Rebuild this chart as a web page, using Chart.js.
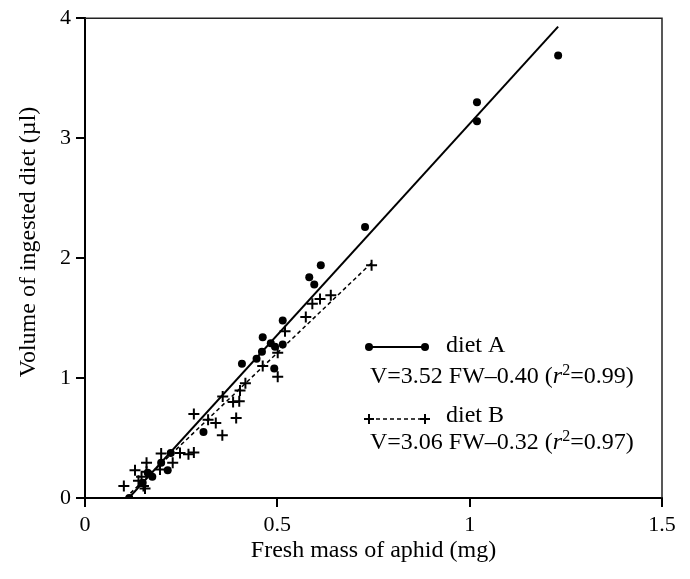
<!DOCTYPE html>
<html>
<head>
<meta charset="utf-8">
<script src="https://cdn.jsdelivr.net/npm/chart.js@4.4.1/dist/chart.umd.min.js"></script>
<style>
  html, body { margin: 0; padding: 0; background: #fff; }
  #wrap { width: 690px; height: 579px; }
</style>
</head>
<body>
<div id="wrap"><canvas id="chart" width="690" height="579"></canvas></div>
<script>
// diet A (dots)
const dietAX = [0.115, 0.15, 0.163, 0.175, 0.198, 0.215, 0.223, 0.308, 0.408, 0.446, 0.46, 0.462, 0.483, 0.492, 0.494, 0.514, 0.514, 0.583, 0.596, 0.613, 0.728, 1.019, 1.019, 1.23]
const dietAY = [0, 0.127, 0.21, 0.177, 0.293, 0.232, 0.376, 0.55, 1.12, 1.16, 1.22, 1.34, 1.29, 1.08, 1.26, 1.28, 1.48, 1.84, 1.78, 1.94, 2.26, 3.30, 3.14, 3.69]

// diet B (crosses)
const dietBX = [0.101, 0.13, 0.139, 0.147, 0.152, 0.156, 0.16, 0.16, 0.195, 0.198, 0.228, 0.247, 0.269, 0.283, 0.283, 0.32, 0.34, 0.357, 0.358, 0.385, 0.393, 0.401, 0.403, 0.417, 0.462, 0.501, 0.501, 0.52, 0.574, 0.591, 0.611, 0.639, 0.745]
const dietBY = [0.1, 0.232, 0.144, 0.177, 0.1, 0.08, 0.293, 0.218, 0.238, 0.371, 0.293, 0.376, 0.365, 0.379, 0.70, 0.653, 0.625, 0.523, 0.846, 0.80, 0.666, 0.807, 0.896, 0.957, 1.10, 1.21, 1.01, 1.39, 1.51, 1.62, 1.66, 1.69, 1.94]

// fitted lines, end points
const fitAX = [0.114, 1.23]
const fitAY = [0, 3.93]
const fitBX = [0.105, 0.745]
const fitBY = [0, 1.96]

const xTicks = [0, 0.5, 1, 1.5]
const yTicks = [0, 1, 2, 3, 4]
const xTitle = 'Fresh mass of aphid (mg)'
const yTitle = 'Volume of ingested diet (\u00b5l)'
const legendA = { name: 'diet A', eq: 'V=3.52 FW\u20130.40 (', r2: '=0.99)' }
const legendB = { name: 'diet B', eq: 'V=3.06 FW\u20130.32 (', r2: '=0.97)' }

const SERIF = '"Liberation Serif", "DejaVu Serif", serif'
const toPts = (xs, ys) => xs.map((x, i) => ({ x: x, y: ys[i] }))

const boxPlugin = {
    id: 'box',
    afterDraw: chart => {
        const { ctx, chartArea: a } = chart
        ctx.save()
        // top and right frame
        ctx.strokeStyle = '#222'
        ctx.lineWidth = 1.5
        ctx.beginPath()
        ctx.moveTo(a.left, a.top)
        ctx.lineTo(a.right, a.top)
        ctx.lineTo(a.right, a.bottom)
        ctx.stroke()

        // y axis title
        ctx.fillStyle = '#000'
        ctx.font = '24px ' + SERIF
        ctx.textAlign = 'center'
        ctx.textBaseline = 'middle'
        ctx.translate(29, 242)
        ctx.rotate(-Math.PI / 2)
        ctx.fillText(yTitle, 0, 0)
        ctx.restore()

        // legend
        const drawEq = (item, x, y) => {
            ctx.font = '24px ' + SERIF
            ctx.textAlign = 'left'
            ctx.textBaseline = 'middle'
            ctx.fillText(item.eq, x, y)
            x += ctx.measureText(item.eq).width
            ctx.font = 'italic 24px ' + SERIF
            ctx.fillText('r', x, y)
            x += ctx.measureText('r').width
            ctx.font = '16px ' + SERIF
            ctx.fillText('2', x, y - 6)
            x += ctx.measureText('2').width
            ctx.font = '24px ' + SERIF
            ctx.fillText(item.r2, x, y)
        }
        ctx.save()
        ctx.fillStyle = '#000'
        ctx.strokeStyle = '#000'

        // diet A sample
        ctx.lineWidth = 2
        ctx.beginPath()
        ctx.moveTo(369, 347)
        ctx.lineTo(425, 347)
        ctx.stroke()
        ;[369, 425].forEach(px => {
            ctx.beginPath()
            ctx.arc(px, 347, 4, 0, Math.PI * 2)
            ctx.fill()
        })
        ctx.font = '24px ' + SERIF
        ctx.textAlign = 'left'
        ctx.textBaseline = 'middle'
        ctx.fillText(legendA.name, 446, 346)
        drawEq(legendA, 370, 377)

        // diet B sample
        ctx.lineWidth = 1.5
        ctx.setLineDash([4, 3])
        ctx.beginPath()
        ctx.moveTo(369, 419)
        ctx.lineTo(425, 419)
        ctx.stroke()
        ctx.setLineDash([])
        ctx.lineWidth = 2
        ;[369, 425].forEach(px => {
            ctx.beginPath()
            ctx.moveTo(px - 5, 419)
            ctx.lineTo(px + 5, 419)
            ctx.moveTo(px, 414)
            ctx.lineTo(px, 424)
            ctx.stroke()
        })
        ctx.font = '24px ' + SERIF
        ctx.fillText(legendB.name, 446, 416)
        drawEq(legendB, 370, 443)
        ctx.restore()
    }
}

const axisCommon = {
    type: 'linear',
    border: { display: true, color: '#000', width: 2 },
    grid: { drawOnChartArea: false, drawTicks: true, tickLength: 9, color: '#000', lineWidth: 2 },
}

new Chart(document.getElementById('chart'), {
    type: 'scatter',
    data: {
        datasets: [
            {
                label: 'diet A fit',
                type: 'line',
                data: toPts(fitAX, fitAY),
                borderColor: '#000',
                borderWidth: 2,
                pointRadius: 0,
                fill: false
            },
            {
                label: 'diet B fit',
                type: 'line',
                data: toPts(fitBX, fitBY),
                borderColor: '#000',
                borderWidth: 1.5,
                borderDash: [4, 3],
                pointRadius: 0,
                fill: false
            },
            {
                label: 'diet A',
                data: toPts(dietAX, dietAY),
                pointStyle: 'circle',
                pointRadius: 4,
                backgroundColor: '#000',
                borderColor: '#000',
                borderWidth: 0
            },
            {
                label: 'diet B',
                data: toPts(dietBX, dietBY),
                pointStyle: 'cross',
                pointRadius: 5.5,
                borderColor: '#000',
                borderWidth: 2
            }
        ]
    },
    options: {
        responsive: false,
        animation: false,
        layout: { padding: { top: 16, right: 28, left: 0, bottom: 0 } },
        plugins: { legend: { display: false }, tooltip: { enabled: false } },
        scales: {
            x: {
                ...axisCommon,
                min: 0,
                max: 1.5,
                afterBuildTicks: s => { s.ticks = xTicks.map(v => ({ value: v })) },
                afterFit: s => { s.height = 81 },
                ticks: { color: '#000', padding: 5, font: { family: SERIF, size: 22 }, maxRotation: 0, callback: v => String(v) },
                title: { display: true, text: xTitle, color: '#000', font: { family: SERIF, size: 24 }, padding: { top: 0, bottom: 14 } }
            },
            y: {
                ...axisCommon,
                min: 0,
                max: 4,
                afterBuildTicks: s => { s.ticks = yTicks.map(v => ({ value: v })) },
                afterFit: s => { s.width = 85 },
                ticks: { color: '#000', padding: 5, font: { family: SERIF, size: 22 }, callback: v => String(v) }
            }
        }
    },
    plugins: [boxPlugin]
})
</script>
</body>
</html>
